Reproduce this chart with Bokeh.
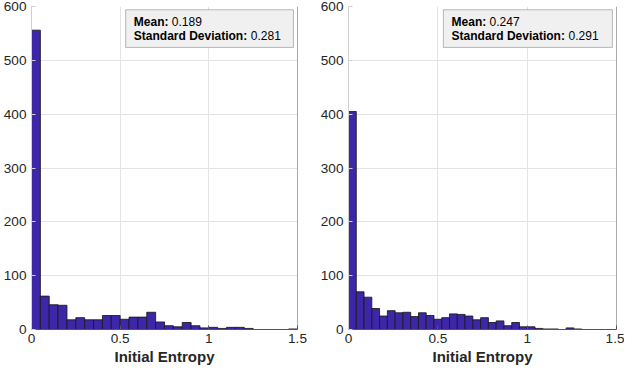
from bokeh.plotting import figure
from bokeh.layouts import row
from bokeh.models import Range1d, FixedTicker, BoxAnnotation, Label, Span
from bokeh.embed import file_html
from bokeh.resources import INLINE

# ---- data ----
x_ticks = [0, 0.5, 1, 1.5]
x_tick_labels = ["0", "0.5", "1", "1.5"]
y_ticks = [0, 100, 200, 300, 400, 500, 600]
y_tick_labels = ["0", "100", "200", "300", "400", "500", "600"]
x_label = "Initial Entropy"
x_max = 1.5
y_max = 600

left_bin_width = 0.05
left_counts = [556, 62, 46, 45, 18, 22, 18, 18, 26, 26,
               19, 23, 23, 32, 14, 7, 5, 13, 7, 3,
               4, 2, 4, 4, 2, 0, 0, 0, 0, 1]
left_mean = "0.189"
left_std = "0.281"

right_bin_width = 0.0435
right_counts = [405, 70, 60, 39, 25, 35, 31, 32, 24, 31,
                26, 19, 22, 29, 28, 25, 18, 22, 13, 16,
                7, 13, 5, 5, 2, 1, 1, 0, 3, 1]
right_mean = "0.247"
right_std = "0.291"

BAR = "#3E26A8"
TXT = "#262626"
FONT = "Liberation Sans"


def panel(counts, width_bin, mean_s, std_s, b_left, b_right):
    p = figure(width=312, height=367, output_backend="svg", toolbar_location=None,
               x_range=Range1d(0, x_max), y_range=Range1d(0, y_max),
               min_border_left=b_left, min_border_right=b_right,
               min_border_top=6, min_border_bottom=10)
    p.outline_line_color = None
    p.background_fill_color = "white"
    p.border_fill_color = "white"

    lefts = [i * width_bin for i in range(len(counts))]
    rights = [(i + 1) * width_bin for i in range(len(counts))]
    p.quad(left=lefts, right=rights, bottom=0, top=counts,
           fill_color=BAR, line_color="#1a1a1a", line_alpha=0.85, line_width=1)

    # grid
    p.xgrid.ticker = FixedTicker(ticks=x_ticks)
    p.ygrid.ticker = FixedTicker(ticks=y_ticks)
    for g in (p.xgrid, p.ygrid):
        g.grid_line_color = "#E3E3E3"
        g.grid_line_width = 1

    # x axis
    xa = p.xaxis[0]
    xa.ticker = FixedTicker(ticks=x_ticks)
    xa.major_label_overrides = {t: l for t, l in zip(x_ticks, x_tick_labels)}
    xa.axis_label = x_label
    xa.axis_label_text_font = FONT
    xa.axis_label_text_font_style = "bold"
    xa.axis_label_text_font_size = "15px"
    xa.axis_label_text_color = TXT
    xa.axis_label_standoff = 2
    xa.major_label_standoff = 4

    # y axis
    ya = p.yaxis[0]
    ya.ticker = FixedTicker(ticks=y_ticks)
    ya.major_label_overrides = {t: l for t, l in zip(y_ticks, y_tick_labels)}
    ya.major_label_standoff = 5

    for a in (xa, ya):
        a.major_label_text_font = FONT
        a.major_label_text_font_size = "13.6px"
        a.major_label_text_color = TXT
        a.major_tick_in = 4
        a.major_tick_out = 0
        a.minor_tick_line_color = None
        a.major_tick_line_color = "#555555"
    xa.axis_line_color = "#555555"
    ya.axis_line_color = "#CFCFCF"
    ya.major_tick_line_color = "#CFCFCF"

    # right border of the axes box
    p.add_layout(Span(location=x_max, dimension="height",
                      line_color="#555555", line_width=1))

    # stats box
    p.add_layout(BoxAnnotation(left=0.531, right=1.477, top=594, bottom=524,
                               fill_color="#F0F0F0", fill_alpha=1,
                               line_color="#262626", line_width=1, level="overlay"))
    x0 = 0.577
    lines = [("Mean:", mean_s, 572, 38), ("Standard Deviation:", std_s, 546, 117)]
    for bold_t, val_t, yy, off in lines:
        p.add_layout(Label(x=x0, y=yy, text=bold_t, text_font=FONT,
                           text_font_style="bold", text_font_size="12px",
                           text_color="black", text_baseline="middle", level="overlay"))
        p.add_layout(Label(x=x0, y=yy, x_offset=off, text=val_t, text_font=FONT,
                           text_font_size="12px", text_color="black",
                           text_baseline="middle", level="overlay"))
    return p


p1 = panel(left_counts, left_bin_width, left_mean, left_std, 30, 15)
p2 = panel(right_counts, right_bin_width, right_mean, right_std, 36, 8)
layout = row(p1, p2)

open("out.html", "w").write(file_html(layout, INLINE))
